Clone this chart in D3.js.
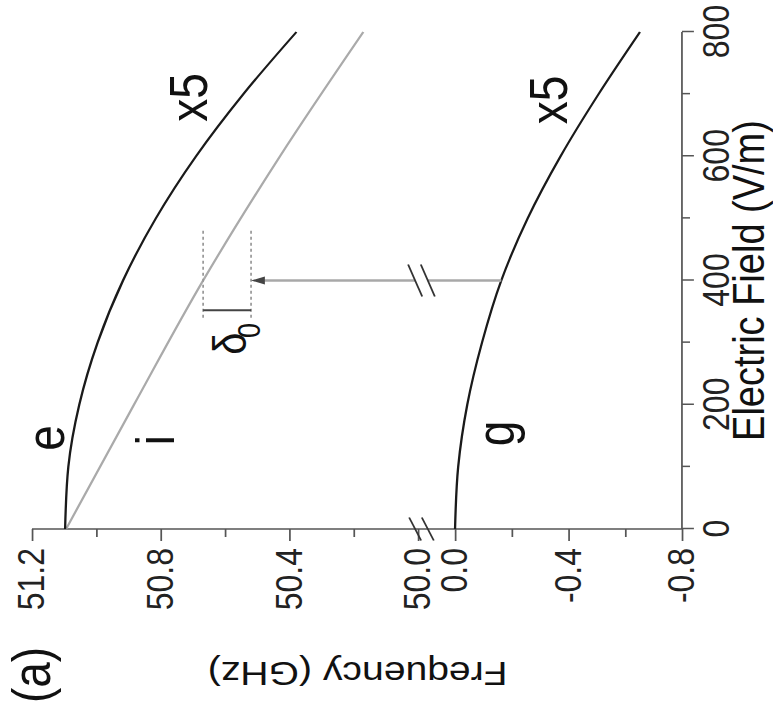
<!DOCTYPE html>
<html>
<head>
<meta charset="utf-8">
<script src="https://cdn.jsdelivr.net/npm/d3@7"></script>
<style>
  body { margin: 0; background: #fff; }
  svg { display: block; }
</style>
</head>
<body>
<script>
// electric field values (V/m) where the curves were read
const field = [0, 100, 200, 300, 400, 500, 600, 700, 800];
// level e, shift x5 (GHz)
const eFreq = [51.097, 51.087, 51.053, 50.996, 50.917, 50.815, 50.690, 50.543, 50.378];
// level g, shift x5 (GHz)
const gFreq = [0.0, -0.011, -0.043, -0.095, -0.163, -0.256, -0.372, -0.506, -0.652];
// grey line i
const iField = [0, 200, 400, 600, 800];
const iFreq = [51.094, 50.883, 50.668, 50.429, 50.170];

// ticks
const fieldTicks = [0, 200, 400, 600, 800];
const fieldMinor = [100, 300, 500, 700];
const upperTicks = [51.2, 50.8, 50.4, 50.0];
const upperLabels = ["51.2", "50.8", "50.4", "50.0"];
const upperMinor = [51.0, 50.6, 50.2];
const lowerTicks = [0.0, -0.4, -0.8];
const lowerLabels = ["0.0", "-0.4", "-0.8"];
const lowerMinor = [-0.2, -0.6];

// arrow and delta_0 marks
const arrowField = 400;
const deltaTop = 50.668, deltaBottom = 50.519;
const dottedField = [340, 480];
const bracketField = 352;

const font = '"Liberation Sans", Arial, sans-serif';
const W = 773, H = 717;

const svg = d3.select("body").append("svg")
    .attr("width", W)
    .attr("height", H)
    .style("background", "#fff");

// the figure is drawn upright, then turned a quarter turn anticlockwise
// (the scan is also a bit stretched across)
const g = svg.append("g")
    .attr("transform", `scale(1.15,1) translate(0,${H}) rotate(-90)`);

const x = d3.scaleLinear().domain([0, 800]).range([188, 685]);
const yUp = d3.scaleLinear().domain([50.0, 51.2]).range([363.5, 27.8]);
const yLo = d3.scaleLinear().domain([-0.8, 0.0]).range([593, 395.7]);

function styleAxis(sel, size) {
    sel.select(".domain").remove();
    sel.selectAll("line").attr("stroke", "#555").attr("stroke-width", 1.5);
    sel.selectAll("text")
        .attr("font-family", font)
        .attr("font-size", size)
        .attr("fill", "#222");
}

// frequency axis (left in the upright figure)
const yAx = g.append("g").attr("transform", `translate(${x(0)},0)`);
yAx.append("g")
    .call(d3.axisLeft(yUp).tickValues(upperTicks).tickFormat((d, i) => upperLabels[i]).tickSize(12).tickPadding(7))
    .call(styleAxis, 32);
yAx.append("g")
    .call(d3.axisLeft(yUp).tickValues(upperMinor).tickFormat("").tickSize(8))
    .call(styleAxis, 32);
yAx.append("g")
    .call(d3.axisLeft(yLo).tickValues(lowerTicks).tickFormat((d, i) => lowerLabels[i]).tickSize(12).tickPadding(7))
    .call(styleAxis, 32);
yAx.append("g")
    .call(d3.axisLeft(yLo).tickValues(lowerMinor).tickFormat("").tickSize(8))
    .call(styleAxis, 32);
yAx.append("line")
    .attr("y1", yUp(51.2)).attr("y2", yLo(-0.8))
    .attr("stroke", "#555").attr("stroke-width", 1.5);

// field axis (bottom in the upright figure)
const xAx = g.append("g").attr("transform", `translate(0,${yLo(-0.8)})`);
xAx.append("g")
    .call(d3.axisBottom(x).tickValues(fieldTicks).tickFormat(d3.format("d")).tickSize(10.4).tickPadding(7.6))
    .call(styleAxis, 32);
xAx.append("g")
    .call(d3.axisBottom(x).tickValues(fieldMinor).tickFormat("").tickSize(7))
    .call(styleAxis, 32);
xAx.append("line")
    .attr("x1", x(0)).attr("x2", x(800))
    .attr("stroke", "#555").attr("stroke-width", 1.5);

// axis break marks
const breakY = yUp(50.0) + 3;
function slashes(cx, half, len) {
    [breakY - 5.5, breakY + 5.5].forEach(c => {
        g.append("line")
            .attr("x1", cx + half).attr("y1", c - len)
            .attr("x2", cx - half).attr("y2", c + len)
            .attr("stroke", "#333").attr("stroke-width", 1.6);
    });
}
slashes(x(0), 11.5, 5.2);

// curves
const line = d3.line()
    .x(d => x(d[0]))
    .y(d => d[1])
    .curve(d3.curveMonotoneX);

g.append("path")
    .datum(iField.map((f, i) => [f, yUp(iFreq[i])]))
    .attr("d", line)
    .attr("fill", "none")
    .attr("stroke", "#aaa")
    .attr("stroke-width", 2);

g.append("path")
    .datum(field.map((f, i) => [f, yUp(eFreq[i])]))
    .attr("d", line)
    .attr("fill", "none")
    .attr("stroke", "#1a1a1a")
    .attr("stroke-width", 2);

g.append("path")
    .datum(field.map((f, i) => [f, yLo(gFreq[i])]))
    .attr("d", line)
    .attr("fill", "none")
    .attr("stroke", "#1a1a1a")
    .attr("stroke-width", 2);

// dotted guides for delta_0
[deltaTop, deltaBottom].forEach(v => {
    g.append("line")
        .attr("x1", x(dottedField[0])).attr("x2", x(dottedField[1]))
        .attr("y1", yUp(v)).attr("y2", yUp(v))
        .attr("stroke", "#999")
        .attr("stroke-width", 1.5)
        .attr("stroke-dasharray", "3,3");
});
g.append("line")
    .attr("x1", x(bracketField)).attr("x2", x(bracketField))
    .attr("y1", yUp(deltaTop)).attr("y2", yUp(deltaBottom))
    .attr("stroke", "#444").attr("stroke-width", 2);

// arrow from g up to the upper panel, broken at the gap
const ax = x(arrowField);
const tip = yUp(deltaBottom);
const gAt = yLo(gFreq[field.indexOf(arrowField)]);
g.append("line")
    .attr("x1", ax).attr("x2", ax)
    .attr("y1", tip + 8).attr("y2", breakY - 5.5)
    .attr("stroke", "#a8a8a8").attr("stroke-width", 2.5);
g.append("line")
    .attr("x1", ax).attr("x2", ax)
    .attr("y1", breakY + 5.5).attr("y2", gAt)
    .attr("stroke", "#a8a8a8").attr("stroke-width", 2.5);
g.append("path")
    .attr("d", `M${ax},${tip} L${ax - 4},${tip + 12} L${ax + 4},${tip + 12} Z`)
    .attr("fill", "#444");
slashes(ax, 16, 6.1);

// text labels
function label(txt, px, py, size) {
    return g.append("text")
        .attr("x", px).attr("y", py)
        .attr("text-anchor", "middle")
        .attr("font-family", font)
        .attr("font-size", size)
        .attr("fill", "#111")
        .text(txt);
}
label("e", x(146.5), yUp(51.101), 46);
label("i", x(143), yUp(50.760), 46);
label("g", x(154), yLo(-0.208), 46);
label("x5", x(694.6), yUp(50.656), 46);
label("x5", x(690.6), yLo(-0.395), 46);
label("δ", x(298.6), yUp(50.534), 40);
label("0", x(319.5), yUp(50.491), 27);
label("(a)", 42, 43.3, 46);

label("Electric Field (V/m)", x(400), 664, 38);
g.append("text")
    .attr("transform", "translate(55,311) rotate(-90)")
    .attr("text-anchor", "middle")
    .attr("font-family", font)
    .attr("font-size", 34)
    .attr("fill", "#111")
    .text("Frequency (GHz)");
</script>
</body>
</html>
